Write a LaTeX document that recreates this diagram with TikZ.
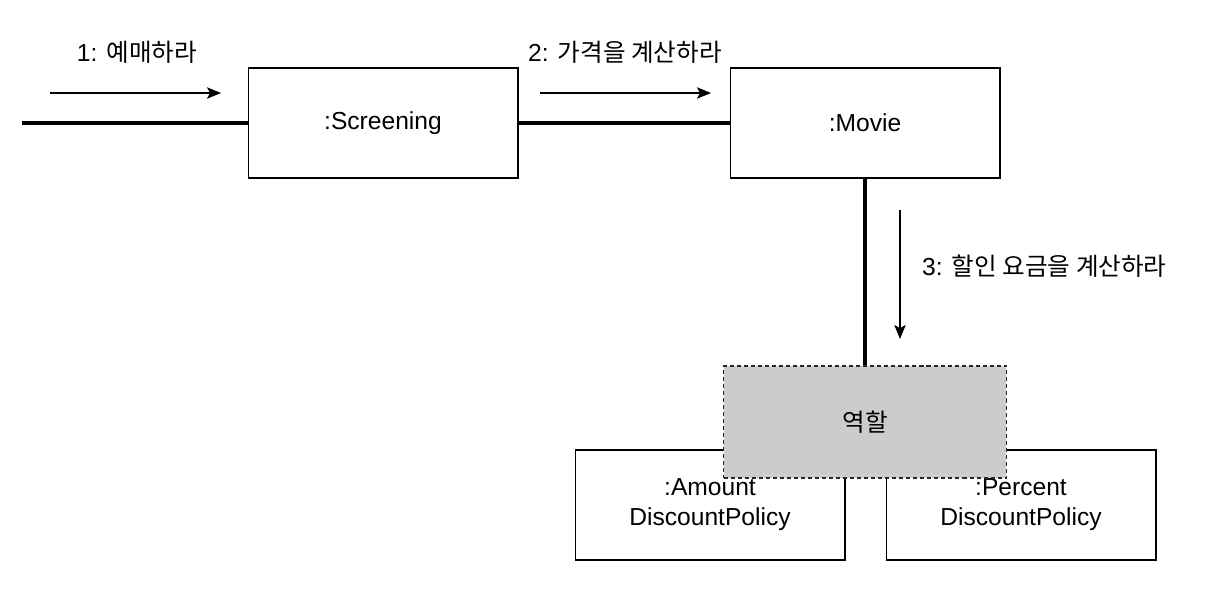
\documentclass[tikz,border=0pt]{standalone}
\usepackage{fontspec}
\setmainfont{Liberation Sans}
\newfontfamily\kr{Noto Sans CJK KR}
\usetikzlibrary{arrows.meta,positioning}
\definecolor{RoleGray}{HTML}{CCCCCC}

\begin{document}
\begin{tikzpicture}[x=0.02cm, y=-0.02cm,
    obj/.style={draw=black, line width=0.6pt, fill=white,
                minimum width=5.4cm, minimum height=2.2cm,
                align=center, font=\fontsize{14}{17}\selectfont},
    role/.style={obj, draw=black!85, fill=RoleGray, line width=0.7pt,
                 dash pattern=on 2.3pt off 1.7pt,
                 minimum width=5.66cm, minimum height=2.24cm},
    link/.style={line width=2.2pt},
    msg/.style={line width=0.6pt, -{Stealth[length=8pt, width=6.5pt, inset=1.8pt]}},
    msglabel/.style={font=\fontsize{14}{17}\selectfont}]

    \useasboundingbox (0,0) rectangle (1218,595);

    %% objects
    \node[obj] (screening) at (383,123) {:Screening};
    \node[obj] (movie) at (865,123) {:Movie};
    \node[obj] (amount) at (710,505) {:Amount\\DiscountPolicy};
    \node[obj] (percent) at (1021,505) {:Percent\\DiscountPolicy};

    %% role covers the two policies
    \node[role] (role) at (865,422) {\kr 역할};

    %% links
    \coordinate (start) at (22,123);
    \draw[link] (start) -- (screening.west);
    \draw[link] (screening.east) -- (movie.west);
    \draw[link] (movie.south) -- (role.north);

    %% messages
    \coordinate (m1a) at (50,93);
    \coordinate (m1b) at (221,93);
    \draw[msg] (m1a) -- (m1b);
    \node[msglabel] (m1) at (137,52) {1: {\kr 예매하라}};

    \coordinate (m2a) at (540,93);
    \coordinate (m2b) at (711,93);
    \draw[msg] (m2a) -- (m2b);
    \node[msglabel] (m2) at (625,52) {2: {\kr 가격을 계산하라}};

    \coordinate (m3a) at (900,210);
    \coordinate (m3b) at (900,339);
    \draw[msg] (m3a) -- (m3b);
    \node[msglabel, anchor=west] (m3) at (916,266) {3: {\kr 할인 요금을 계산하라}};

\end{tikzpicture}
\end{document}
